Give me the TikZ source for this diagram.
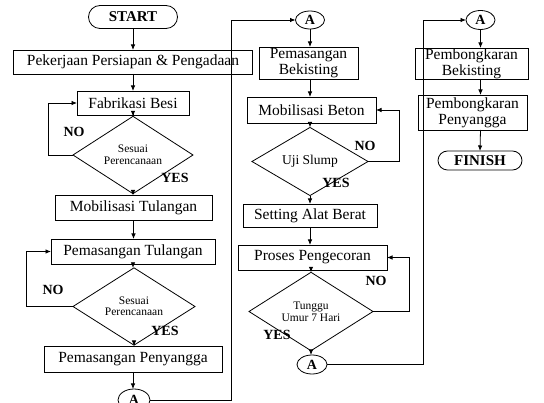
\documentclass[tikz,border=0pt]{standalone}
\usepackage{fontspec}
\setmainfont{Liberation Serif}
\usetikzlibrary{shapes.geometric,arrows.meta}
\tikzset{
  x=1pt, y=-1pt,
  every node/.style={inner sep=0pt, outer sep=0pt},
  procbox/.style={draw, line width=0.8pt, align=center,
    font=\fontsize{15.5}{16}\selectfont},
  term/.style={draw, line width=0.8pt, rounded corners=9.5pt,
    font=\fontsize{15}{16}\selectfont\bfseries},
  decision/.style={draw, diamond, line width=0.8pt, align=center},
  conn/.style={draw, ellipse, line width=0.8pt,
    font=\fontsize{14}{15}\selectfont\bfseries},
  lbl/.style={font=\fontsize{14}{15}\selectfont\bfseries},
  arr/.style={line width=0.8pt, -{Latex[length=5.5pt,width=4.5pt]}},
  ln/.style={line width=0.8pt},
}
\begin{document}
\begin{tikzpicture}
\useasboundingbox (0,0) rectangle (544,403);
\clip (0,0) rectangle (544,403);

% ---- first column: rebar work ----
\node[term, minimum width=89, minimum height=23, rounded corners=11.5pt] (start) at (133,17) {START};
\node[procbox, minimum width=239, minimum height=24] (pek) at (133,62) {Pekerjaan Persiapan \& Pengadaan};
\node[procbox, minimum width=112, minimum height=24] (fab) at (133,103) {Fabrikasi Besi};
\node[decision, minimum width=120, minimum height=45,
      font=\fontsize{11.5}{11.5}\selectfont] (d1) at (133,155) {Sesuai\\Perencanaan};
\node[procbox, minimum width=157, minimum height=25] (mob) at (133.5,208) {Mobilisasi Tulangan};
\node[procbox, minimum width=164, minimum height=25] (pt) at (133,251.5) {Pemasangan Tulangan};
\node[decision, minimum width=122, minimum height=45,
      font=\fontsize{11.5}{11.5}\selectfont] (d2) at (134,306.5) {Sesuai\\Perencanaan};
\node[procbox, minimum width=178, minimum height=26] (pp) at (133,359) {Pemasangan Penyangga};
\node[conn, minimum width=32, minimum height=22] (A1) at (134,400) {A};

\node[lbl] (no1) at (74,132) {NO};
\node[lbl] (yes1) at (175,178) {YES};
\node[lbl] (no2) at (53,290) {NO};
\node[lbl] (yes2) at (165,331) {YES};

\draw[arr] (start.south) -- (start.south |- pek.north);
\draw[arr] (pek.south) -- (pek.south |- fab.north);
\draw[arr] (fab.south) -- (fab.south |- d1.north);
\draw[arr] (d1.south) -- (d1.south |- mob.north);
\draw[arr] (d1.west) -- ++(-25,0) |- (fab.west);
\draw[arr] (mob.south) -- (mob.south |- pt.north);
\draw[arr] (pt.south) -- (pt.south |- d2.north);
\draw[arr] (d2.south) -- (d2.south |- pp.north);
\draw[arr] (d2.west) -- ++(-47,0) |- (pt.west);
\draw[arr] (pp.south) -- (pp.south |- A1.north);

% ---- second column: formwork and concrete ----
\node[conn, minimum width=29, minimum height=18] (A2) at (310,20) {A};
\node[procbox, minimum width=99, minimum height=32] (pbek) at (308.5,63) {Pemasangan\\Bekisting};
\node[procbox, minimum width=129, minimum height=26] (mb) at (311.5,110) {Mobilisasi Beton};
\node[decision, minimum width=116, minimum height=43,
      font=\fontsize{13.5}{14}\selectfont] (d3) at (310,161.5) {Uji Slump};
\node[procbox, minimum width=134, minimum height=23] (sab) at (310,215.5) {Setting Alat Berat};
\node[procbox, minimum width=149, minimum height=25] (ppc) at (312.5,257.5) {Proses Pengecoran};
\node[decision, minimum width=124, minimum height=47,
      font=\fontsize{11.5}{12}\selectfont] (d4) at (311,311.5) {Tunggu\\Umur 7 Hari};
\node[conn, minimum width=30, minimum height=19] (A3) at (312,364.5) {A};

\node[lbl] (no3) at (365,146) {NO};
\node[lbl] (yes3) at (336,183) {YES};
\node[lbl] (no4) at (376,281) {NO};
\node[lbl] (yes4) at (277,335) {YES};

\coordinate (c1) at (231,20);
\draw[arr] (A1.east) -| (c1) -- (A2.west);
\draw[arr] (A2.south) -- (A2.south |- pbek.north);
\draw[arr] (pbek.south -| A2) -- (A2 |- mb.north);
\draw[arr] (mb.south -| A2) -- (A2 |- d3.north);
\draw[arr] (d3.south) -- (d3.south |- sab.north);
\draw[arr] (d3.east) -- ++(31,0) |- (mb.east);
\draw[arr] (sab.south) -- (sab.south |- ppc.north);
\draw[arr] (ppc.south -| d4) -- (d4.north);
\draw[arr] (d4.east) -- ++(36,0) |- (ppc.east);
\draw[arr] (d4.south) -- (d4.south |- A3.north);

% ---- third column: dismantling ----
\node[conn, minimum width=29, minimum height=19] (A4) at (480.5,20) {A};
\node[procbox, minimum width=113, minimum height=31] (pbk) at (471.5,63.5) {Pembongkaran\\Bekisting};
\node[procbox, minimum width=109, minimum height=35] (pny) at (472.5,112.5) {Pembongkaran\\Penyangga};
\node[term, minimum width=84, minimum height=19] (fin) at (480,160.5) {FINISH};

\coordinate (c2) at (423,20);
\draw[arr] (A3.east) -| (c2) -- (A4.west);
\draw[arr] (A4.south) -- (A4.south |- pbk.north);
\draw[arr] (pbk.south -| A4) -- (A4 |- pny.north);
\draw[arr] (pny.south -| A4) -- (fin.north);
\end{tikzpicture}
\end{document}
